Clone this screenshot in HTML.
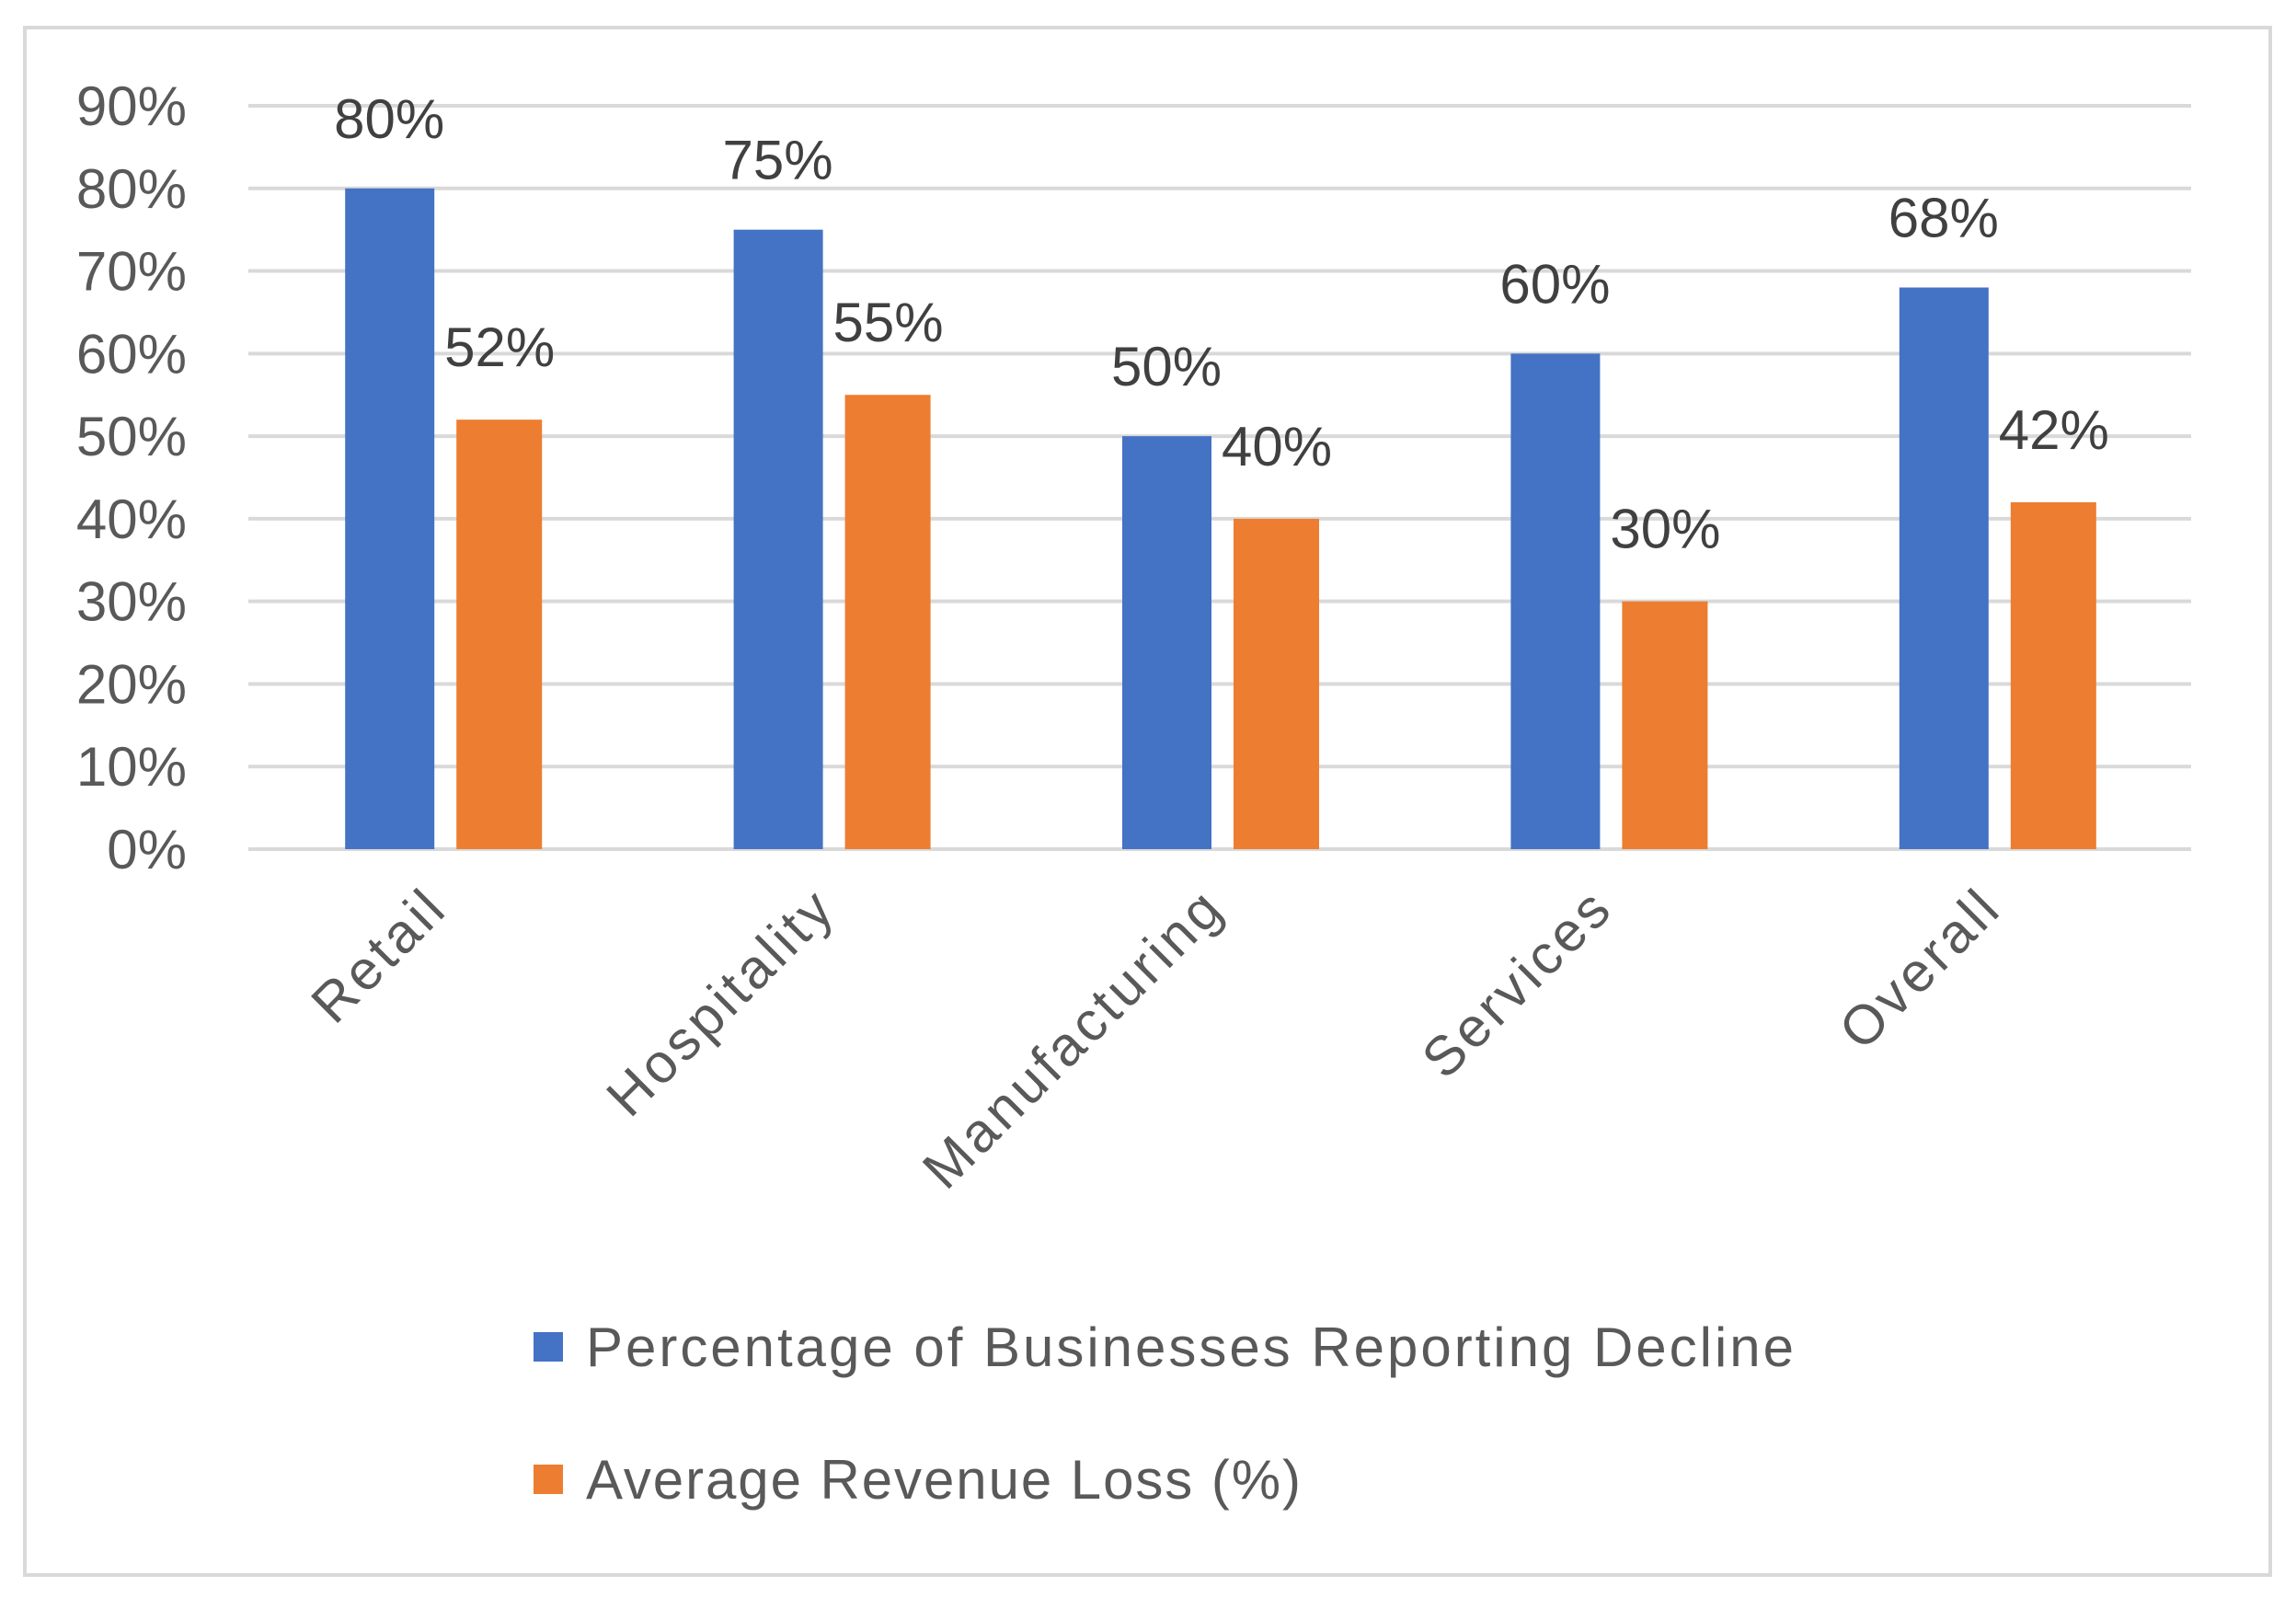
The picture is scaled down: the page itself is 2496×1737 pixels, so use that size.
<!DOCTYPE html>
<html><head><meta charset="utf-8"><style>
html,body{margin:0;padding:0;background:#fff;}
svg{display:block;font-family:"Liberation Sans",sans-serif;}
</style></head><body>
<svg id="chart" width="2496" height="1737" viewBox="0 0 2496 1737">
<rect x="27" y="30" width="2441" height="1682" fill="#fff" stroke="#d9d9d9" stroke-width="4"/>
<g id="grid"></g><g id="bars"></g><g id="labels"></g>
<g>
<rect x="580" y="1448" width="32" height="32" fill="#4472C4"/>
<text x="637" y="1485" font-size="60" fill="#595959" textLength="1313" lengthAdjust="spacing">Percentage of Businesses Reporting Decline</text>
<rect x="580" y="1592" width="32" height="32" fill="#ED7D31"/>
<text x="637" y="1629" font-size="60" fill="#595959" textLength="777" lengthAdjust="spacing">Average Revenue Loss (%)</text>
</g>
</svg>
<script>
const categories = ["Retail","Hospitality","Manufacturing","Services","Overall"];
const declineValues = [80,75,50,60,68];
const lossValues = [52,55,40,30,42];
const tickValues = [0,10,20,30,40,50,60,70,80,90];
const tickLabels = ["0%","10%","20%","30%","40%","50%","60%","70%","80%","90%"];

const NS="http://www.w3.org/2000/svg";
const X0=270,X1=2382,Y0=923,Y90=115;
function y(v){return Y0-(v/90)*(Y0-Y90);}
const band=(X1-X0)/categories.length;
function cx(i){return X0+band*(i+0.5);}
function mk(tag,attrs,parent){const e=document.createElementNS(NS,tag);for(const k in attrs)e.setAttribute(k,attrs[k]);parent.appendChild(e);return e;}
const grid=document.getElementById('grid'),bars=document.getElementById('bars'),labels=document.getElementById('labels');
tickValues.forEach((v,i)=>{
  const l=mk('line',{x1:X0,x2:X1,y1:y(v),y2:y(v),stroke:'#d9d9d9','stroke-width':4},grid);
  
  
  const t=mk('text',{x:203,y:y(v)+21,'font-size':60,fill:'#595959','text-anchor':'end'},grid);
  t.textContent=tickLabels[i];
  
  
});
categories.forEach((c,i)=>{
  const m=cx(i);
  const b=mk('rect',{x:m-106,y:y(declineValues[i]),width:97,height:Y0-y(declineValues[i]),fill:'#4472C4'},bars);
  
  
  const o=mk('rect',{x:m+15,y:y(lossValues[i]),width:93,height:Y0-y(lossValues[i]),fill:'#ED7D31'},bars);
  
  
  const t1=mk('text',{x:m-58,y:y(declineValues[i])-55,'font-size':60,fill:'#404040','text-anchor':'middle'},labels);
  t1.textContent=declineValues[i]+'%';
  
  
  const t2=mk('text',{x:m+62,y:y(lossValues[i])-58,'font-size':60,fill:'#404040','text-anchor':'middle'},labels);
  t2.textContent=lossValues[i]+'%';
  
  
  const cl=mk('text',{x:m+8,y:990,'font-size':60,fill:'#595959','text-anchor':'end','letter-spacing':4,transform:'rotate(-45 '+(m+8)+' 990)'},labels);
  cl.textContent=c;
  
  
});
</script>
</body></html>
